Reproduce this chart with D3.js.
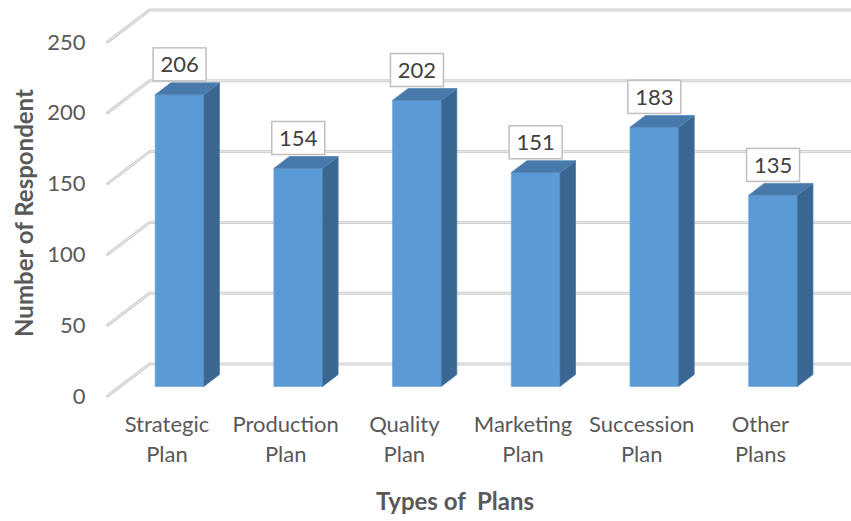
<!DOCTYPE html>
<html>
<head>
<meta charset="utf-8">
<script src="https://cdn.jsdelivr.net/npm/d3@7"></script>
<style>
  html, body { margin: 0; padding: 0; background: #ffffff; }
  svg { display: block; font-family: Lato, "Open Sans", sans-serif; }
</style>
</head>
<body>
<svg id="chart" width="851" height="521"></svg>
<script>
const categories = [["Strategic", "Plan"], ["Production", "Plan"], ["Quality", "Plan"], ["Marketing", "Plan"], ["Succession", "Plan"], ["Other", "Plans"]];
const values = [206, 154, 202, 151, 183, 135];
const yTicks = [0, 50, 100, 150, 200, 250];
const yTitle = "Number of Respondent";
const xTitle = "Types of  Plans";

const svg = d3.select("#chart");
const W = 851, H = 521;

// front plane (floor edge)
const x = d3.scaleBand().domain(d3.range(categories.length)).range([107.6, 819.8]).paddingInner(0).paddingOuter(0);
const y = d3.scaleLinear().domain([0, 250]).range([396, 42]);

// depth vector of the 3D box
const DX = 42, DY = -32;
const P = (px, v, d) => [px + d * DX, y(v) + d * DY];

const barW = x.bandwidth() * 0.41;
const dFront = 0.30, dBack = 0.67;

const g = svg.append("g");

// gridlines: diagonal on side wall + horizontal on back wall
const grid = g.append("g");
yTicks.forEach(v => {
  const a = P(x.range()[0], v, 0), b = P(x.range()[0], v, 1), c = [W + 10, b[1]];
  const path = `M${a[0]},${a[1]}L${b[0]},${b[1]}L${c[0]},${c[1]}`;
  grid.append("path").attr("d", path).attr("fill", "none").attr("stroke", "#cfcfcf").attr("stroke-width", 3).attr("stroke-linejoin", "round").attr("stroke-linecap", "round");
  grid.append("path").attr("d", path).attr("fill", "none").attr("stroke", "#ececec").attr("stroke-width", 1).attr("stroke-linejoin", "round");
});

// y axis labels
const yAxis = d3.axisLeft(y).tickValues(yTicks).tickSize(0).tickPadding(22);
const ya = g.append("g").attr("transform", `translate(${x.range()[0]},0)`).call(yAxis);
ya.select(".domain").remove();
ya.selectAll("text").attr("font-family", "Lato, 'Open Sans', sans-serif").attr("font-size", 22).attr("fill", "#595959");

// bars
const bars = g.append("g");
values.forEach((v, i) => {
  const cx = x(i) + x.bandwidth() / 2;
  const l = cx - barW / 2, r = cx + barW / 2;
  const fbl = P(l, 0, dFront), fbr = P(r, 0, dFront), ftl = P(l, v, dFront), ftr = P(r, v, dFront);
  const bbr = P(r, 0, dBack), btl = P(l, v, dBack), btr = P(r, v, dBack);
  bars.append("path").attr("d", `M${fbl}L${fbr}L${ftr}L${ftl}Z`).attr("fill", "#5b9bd5").attr("stroke", "#6aa6dc").attr("stroke-width", 0.8);
  bars.append("path").attr("d", `M${fbr}L${bbr}L${btr}L${ftr}Z`).attr("fill", "#3a6791").attr("stroke", "#4a78a3").attr("stroke-width", 0.8);
  bars.append("path").attr("d", `M${ftl}L${ftr}L${btr}L${btl}Z`).attr("fill", "#4879ab").attr("stroke", "#5686b6").attr("stroke-width", 0.8);

  // data label box
  const topY = btl[1];
  const bw = 53, bh = 33;
  const lx = ftl[0] + barW / 2;
  const lab = bars.append("g").attr("transform", `translate(${lx},${topY - 2 - bh / 2})`);
  lab.append("rect").attr("x", -bw / 2).attr("y", -bh / 2).attr("width", bw).attr("height", bh).attr("fill", "#ffffff").attr("stroke", "#bfbfbf").attr("stroke-width", 1.5);
  lab.append("text").attr("text-anchor", "middle").attr("dy", "0.36em").attr("font-size", 22).attr("fill", "#404040").text(v);
});

// category labels
const xl = g.append("g");
categories.forEach((c, i) => {
  const cx = x(i) + x.bandwidth() / 2;
  const t = xl.append("text").attr("text-anchor", "middle").attr("font-size", 22).attr("fill", "#595959");
  c.forEach((line, k) => {
    t.append("tspan").attr("x", cx).attr("y", 432 + k * 30).text(line);
  });
});

// axis titles
g.append("text").attr("transform", `translate(33,213) rotate(-90)`).attr("text-anchor", "middle")
  .attr("font-size", 24).attr("font-weight", "bold").attr("fill", "#595959").text(yTitle);
g.append("text").attr("x", 455).attr("y", 510).attr("text-anchor", "middle")
  .attr("font-size", 24).attr("font-weight", "bold").attr("fill", "#595959").attr("xml:space", "preserve").style("white-space", "pre").text(xTitle);
</script>
</body>
</html>
